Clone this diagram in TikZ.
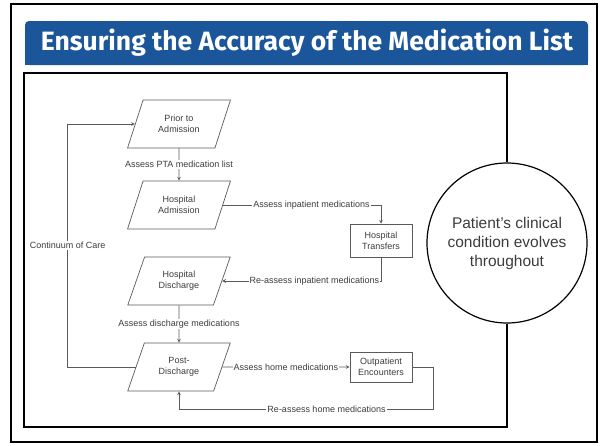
\documentclass[tikz,border=0pt]{standalone}
\usepackage{fontspec}
\setmainfont{Liberation Sans}
\newfontfamily\titlefont{Fira Sans}
\usetikzlibrary{shapes.geometric}

\begin{document}
\begin{tikzpicture}[x=1pt,y=-1pt,
		stage/.style={draw=linegrey,line width=0.7pt,trapezium,trapezium left angle=63,trapezium right angle=117,trapezium stretches=true,minimum width=103pt,minimum height=48pt,inner sep=0pt,align=center,text=textgrey,font=\fontsize{9}{11}\selectfont},
		place/.style={draw=linegrey,line width=0.7pt,rectangle,minimum width=62pt,inner sep=2pt,align=center,text=textgrey,font=\fontsize{9}{11}\selectfont},
		flow/.style={->,>=stealth,draw=linegrey,line width=0.7pt},
		lbl/.style={fill=white,inner sep=1pt,text=textgrey,font=\fontsize{9}{11}\selectfont}]
					\definecolor{titleblue}{HTML}{1A5699}
					\definecolor{linegrey}{HTML}{5A5A5A}
					\definecolor{textgrey}{HTML}{3C3C3C}
					\useasboundingbox (0,0) rectangle (600,445);
					
					% frame and title
					\draw[line width=2pt] (11,4) rectangle (597,442);
					\fill[titleblue,rounded corners=4pt] (25,21) rectangle (588,65);
					\fill[titleblue] (25,40) rectangle (588,65);
					\node[text=white,font=\titlefont\bfseries\fontsize{26.5}{30}\selectfont] (title) at (307,43) {Ensuring the Accuracy of the Medication List};
					
					% circle and diagram box
					\node[circle,draw,line width=1.2pt,minimum size=160pt,inner sep=0pt,align=center,text=textgrey,font=\fontsize{15.5}{19}\selectfont] (evolves) at (507,243) {Patient's clinical\\condition evolves\\throughout};
					\coordinate (boxtl) at (24,73);
					\coordinate (boxbl) at (24,427);
					\draw[line width=1.8pt] (evolves.north) |- (boxtl) -- (boxbl) -| (evolves.south);
					
					% stages
					\node[stage] (prior) at (179,124) {Prior to\\Admission};
					\node[stage] (hadm) at (179,205) {Hospital\\Admission};
					\node[stage] (hdis) at (179,281) {Hospital\\Discharge};
					\node[stage] (post) at (179,367) {Post-\\Discharge};
					\node[place,minimum height=33pt] (transfers) at (381,240.5) {Hospital\\Transfers};
					\node[place,minimum height=30pt] (outpat) at (381,367) {Outpatient\\Encounters};
					
					% connectors
					\draw[flow] (prior) -- node[lbl] {Assess PTA medication list} (hadm);
					\draw[flow] (hadm.east) -| node[lbl,pos=0.28] {Assess inpatient medications} (transfers.north);
					\draw[flow] (transfers.south) |- node[lbl,pos=0.71] {Re-assess inpatient medications} (hdis.east);
					\draw[flow] (hdis) -- node[lbl] {Assess discharge medications} (post);
					\draw[flow] (post.east) -- node[lbl] {Assess home medications} (outpat.west);
					\draw[flow] (outpat.east) -- ++(21,0) -- ++(0,42) -| node[lbl,pos=0.21] {Re-assess home medications} (post.south);
					\draw[flow] (post.west) -- ++(-68,0) |- node[lbl,pos=0.25] {Continuum of Care} (prior.west);
				\end{tikzpicture}
\end{document}
